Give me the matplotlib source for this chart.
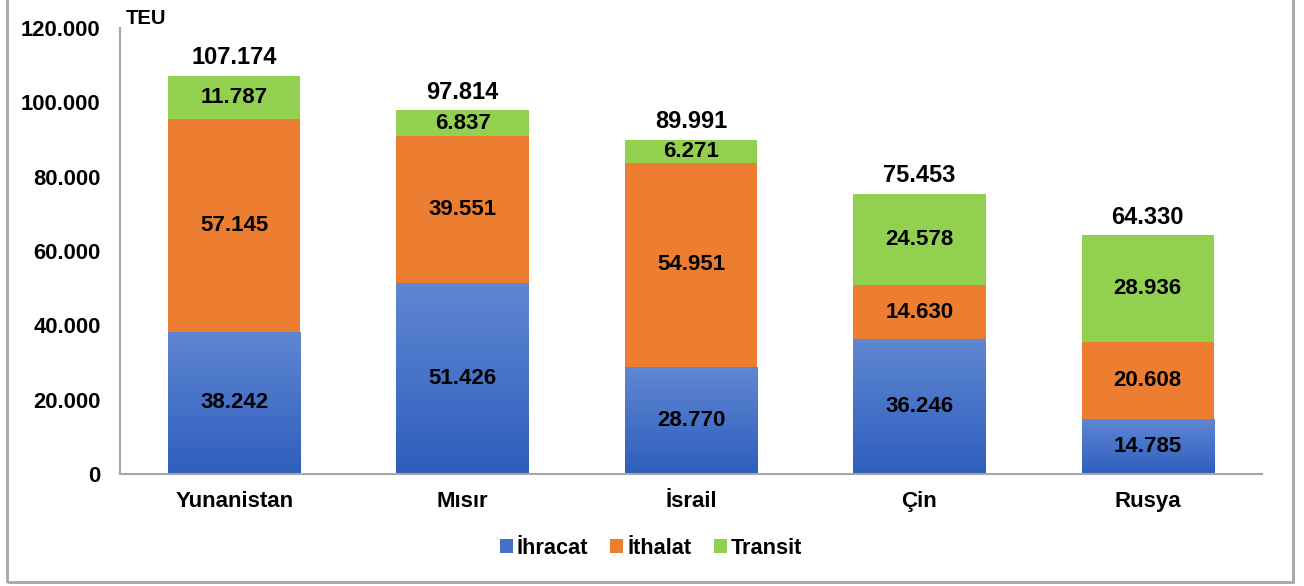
import matplotlib
matplotlib.use("Agg")
import matplotlib.pyplot as plt
import numpy as np
from matplotlib.patches import Rectangle
from matplotlib.colors import LinearSegmentedColormap

categories = ["Yunanistan", "Mısır", "İsrail", "Çin", "Rusya"]
ihracat = [38242, 51426, 28770, 36246, 14785]
ithalat = [57145, 39551, 54951, 14630, 20608]
transit = [11787, 6837, 6271, 24578, 28936]
totals = [107174, 97814, 89991, 75453, 64330]
yticks = [0, 20000, 40000, 60000, 80000, 100000, 120000]

def fmt(v):
    return f"{v:,}".replace(",", ".")

plt.rcParams['font.family'] = ['Liberation Sans', 'DejaVu Sans']
plt.rcParams['font.weight'] = 'bold'

W, H = 1304, 586
fig = plt.figure(figsize=(W / 100, H / 100), dpi=100)
ax = fig.add_axes([120 / W, 1 - 474 / H, (1262 - 120) / W, (474 - 28) / H])

x = np.arange(len(categories))
bw = 0.58
c_blue = "#4472c4"
c_orange = "#ed7d31"
c_green = "#92d050"

b1 = ax.bar(x, ihracat, bw, color=c_blue, label="İhracat", zorder=2)
b2 = ax.bar(x, ithalat, bw, bottom=ihracat, color=c_orange, label="İthalat", zorder=2)
bot3 = [a + b for a, b in zip(ihracat, ithalat)]
b3 = ax.bar(x, transit, bw, bottom=bot3, color=c_green, label="Transit", zorder=2)

# gradient on blue bars
cmap = LinearSegmentedColormap.from_list("bg", ["#2e5ebd", "#5f87d2"])
grad = np.linspace(0, 1, 256).reshape(-1, 1)
for rect in b1:
    x0, y0 = rect.get_x(), rect.get_y()
    w, h = rect.get_width(), rect.get_height()
    im = ax.imshow(grad, cmap=cmap, aspect='auto', origin='lower',
                   extent=[x0, x0 + w, y0, y0 + h], zorder=2.5)
    im.set_clip_path(rect)

for i in range(len(categories)):
    ax.text(x[i], ihracat[i] / 2, fmt(ihracat[i]), ha='center', va='center',
            fontsize=16, fontweight='bold', zorder=4)
    ax.text(x[i], ihracat[i] + ithalat[i] / 2, fmt(ithalat[i]), ha='center', va='center',
            fontsize=16, fontweight='bold', zorder=4)
    ax.text(x[i], bot3[i] + transit[i] / 2, fmt(transit[i]), ha='center', va='center',
            fontsize=16, fontweight='bold', zorder=4)
    ax.text(x[i], totals[i] + 1700, fmt(totals[i]), ha='center', va='bottom',
            fontsize=17, fontweight='bold', zorder=4)

ax.set_xlim(-0.5, len(categories) - 0.5)
ax.set_ylim(0, 120000)
ax.set_yticks(yticks)
ax.set_yticklabels([fmt(v) for v in yticks], fontsize=15.8, fontweight='bold')
ax.set_xticks(x)
ax.set_xticklabels(categories, fontsize=16, fontweight='bold')
ax.tick_params(axis='y', length=0, pad=14)
ax.tick_params(axis='x', length=0, pad=12)
for s in ['top', 'right']:
    ax.spines[s].set_visible(False)
ax.spines['left'].set_color('#a6a6a6')
ax.spines['bottom'].set_color('#a6a6a6')
ax.spines['left'].set_linewidth(1.5)
ax.spines['bottom'].set_linewidth(1.5)
ax.set_facecolor('none')

fig.text(126 / W, 1 - 18 / H, "TEU", fontsize=14.5, fontweight='bold', ha='left', va='center')

leg = fig.legend(handles=[b1, b2, b3], labels=["İhracat", "İthalat", "Transit"],
                 loc='center', bbox_to_anchor=(651 / W, 1 - 548 / H), ncol=3,
                 frameon=False, fontsize=15.7, handlelength=0.6, handleheight=0.6,
                 handletextpad=0.2, columnspacing=1.0)
for t in leg.get_texts():
    t.set_fontweight('bold')

# outer border
border = Rectangle((7 / W, 1 - 582 / H), (1293 - 7) / W, 582 / H + 0.05,
                   transform=fig.transFigure, fill=False, edgecolor='#a6a6a6',
                   linewidth=2, zorder=0)
fig.patches.append(border)

fig.savefig("out.png", dpi=100)
